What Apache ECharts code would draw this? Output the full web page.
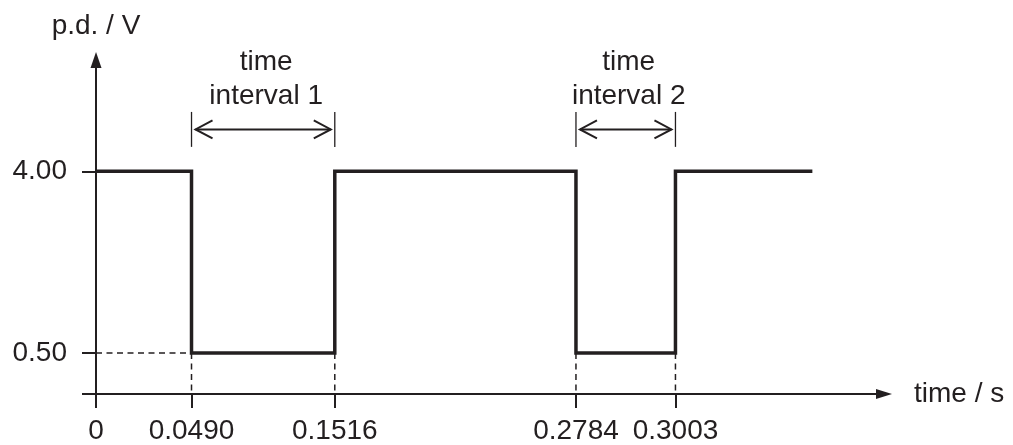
<!DOCTYPE html>
<html>
<head>
<meta charset="utf-8">
<script src="https://cdn.jsdelivr.net/npm/echarts@6/dist/echarts.min.js"></script>
<style>
  html, body { margin: 0; padding: 0; background: #fff; }
  #main { width: 1013px; height: 445px; }
</style>
</head>
<body>
<div id="main"></div>
<script>
// sketch is not to scale on the time axis, so each time tick sits at a slot
const timeLabels = ['0', '0.0490', '0.1516', '0.2784', '0.3003'];
const timeSlots = [0, 12, 30, 60.3, 72.8];
const endSlot = 90;
const levels = [4.00, 0.50, 4.00, 0.50, 4.00]; // p.d. between one slot and the next
const voltTicks = [0.50, 4.00];
const intervalNames = ['time\ninterval 1', 'time\ninterval 2'];
const intervalSlots = [[1, 2], [3, 4]];

const ink = '#231f20';
const font = "'Liberation Sans', Arial, sans-serif";
const yMin = -0.288;
const yMax = 6.144;

// build the square wave from the levels
var wave = [];
levels.forEach(function (v, i) {
  var x0 = timeSlots[i];
  var x1 = i + 1 < timeSlots.length ? timeSlots[i + 1] : endSlot;
  wave.push([x0, v], [x1, v]);
});

// dashed guide lines
var lowV = Math.min.apply(null, levels);
var guides = [[0, lowV, timeSlots[1], lowV]];
timeSlots.slice(1).forEach(function (x) {
  guides.push([x, lowV, x, yMin]);
});

var intervals = intervalSlots.map(function (p) {
  return [timeSlots[p[0]], timeSlots[p[1]]];
});

var chartDom = document.getElementById('main');
var myChart = echarts.init(chartDom);
var option;

function renderGuide(params, api) {
  var a = api.coord([api.value(0), api.value(1)]);
  var b = api.coord([api.value(2), api.value(3)]);
  return {
    type: 'line',
    shape: { x1: a[0], y1: a[1], x2: b[0], y2: b[1] },
    style: { stroke: ink, lineWidth: 1.5, lineDash: [6, 4.5] }
  };
}

function renderInterval(params, api) {
  var xa = api.coord([api.value(0), 0])[0];
  var xb = api.coord([api.value(1), 0])[0];
  var top = api.coord([0, 5.144])[1];
  var bot = api.coord([0, 4.471])[1];
  var mid = api.coord([0, 4.808])[1];
  var txt = api.coord([0, 5.78])[1];
  var line = { stroke: ink, lineWidth: 1.3 };
  var arrow = { stroke: ink, lineWidth: 2, fill: null };
  return {
    type: 'group',
    children: [
      { type: 'line', shape: { x1: xa, y1: top, x2: xa, y2: bot }, style: line },
      { type: 'line', shape: { x1: xb, y1: top, x2: xb, y2: bot }, style: line },
      { type: 'line', shape: { x1: xa + 4, y1: mid, x2: xb - 4, y2: mid }, style: arrow },
      { type: 'polyline', shape: { points: [[xa + 21, mid - 9], [xa + 4, mid], [xa + 21, mid + 9]] }, style: arrow },
      { type: 'polyline', shape: { points: [[xb - 21, mid - 9], [xb - 4, mid], [xb - 21, mid + 9]] }, style: arrow },
      {
        type: 'text',
        style: {
          text: intervalNames[params.dataIndex],
          x: (xa + xb) / 2 + 3,
          y: txt,
          align: 'center',
          verticalAlign: 'middle',
          fontSize: 28,
          lineHeight: 34,
          fontFamily: font,
          fill: ink
        }
      }
    ]
  };
}

option = {
  animation: false,
  grid: { left: 96, right: 129, top: 60, bottom: 50.5 },
  xAxis: {
    type: 'value',
    min: 0,
    max: 99,
    name: 'time / s',
    nameLocation: 'end',
    nameGap: 30,
    nameTextStyle: { fontSize: 28, color: ink, fontFamily: font },
    axisLine: {
      onZero: false,
      symbol: ['none', 'triangle'],
      symbolSize: [10, 16],
      lineStyle: { color: ink, width: 2 }
    },
    axisTick: {
      customValues: timeSlots,
      length: 14,
      lineStyle: { color: ink, width: 2 }
    },
    axisLabel: {
      customValues: timeSlots,
      formatter: function (v) {
        return timeLabels[timeSlots.indexOf(v)];
      },
      margin: 23,
      fontSize: 28,
      color: ink,
      fontFamily: font
    },
    splitLine: { show: false }
  },
  yAxis: {
    type: 'value',
    min: yMin,
    max: yMax,
    name: 'p.d. / V',
    nameLocation: 'end',
    nameGap: 20,
    nameTextStyle: { fontSize: 28, color: ink, fontFamily: font },
    axisLine: {
      show: true,
      onZero: false,
      symbol: ['none', 'triangle'],
      symbolSize: [11, 16],
      lineStyle: { color: ink, width: 2 }
    },
    axisTick: {
      show: true,
      customValues: [yMin].concat(voltTicks),
      length: 14,
      lineStyle: { color: ink, width: 2 }
    },
    axisLabel: {
      customValues: voltTicks,
      formatter: function (v) {
        return v.toFixed(2);
      },
      margin: 29,
      fontSize: 28,
      color: ink,
      fontFamily: font
    },
    splitLine: { show: false }
  },
  series: [
    {
      type: 'custom',
      renderItem: renderGuide,
      data: guides,
      clip: false,
      silent: true
    },
    {
      type: 'line',
      data: wave,
      symbol: 'none',
      lineStyle: { color: ink, width: 3.5, join: 'miter' },
      z: 3
    },
    {
      type: 'custom',
      renderItem: renderInterval,
      data: intervals,
      clip: false,
      silent: true
    }
  ]
};

option && myChart.setOption(option);
</script>
</body>
</html>
